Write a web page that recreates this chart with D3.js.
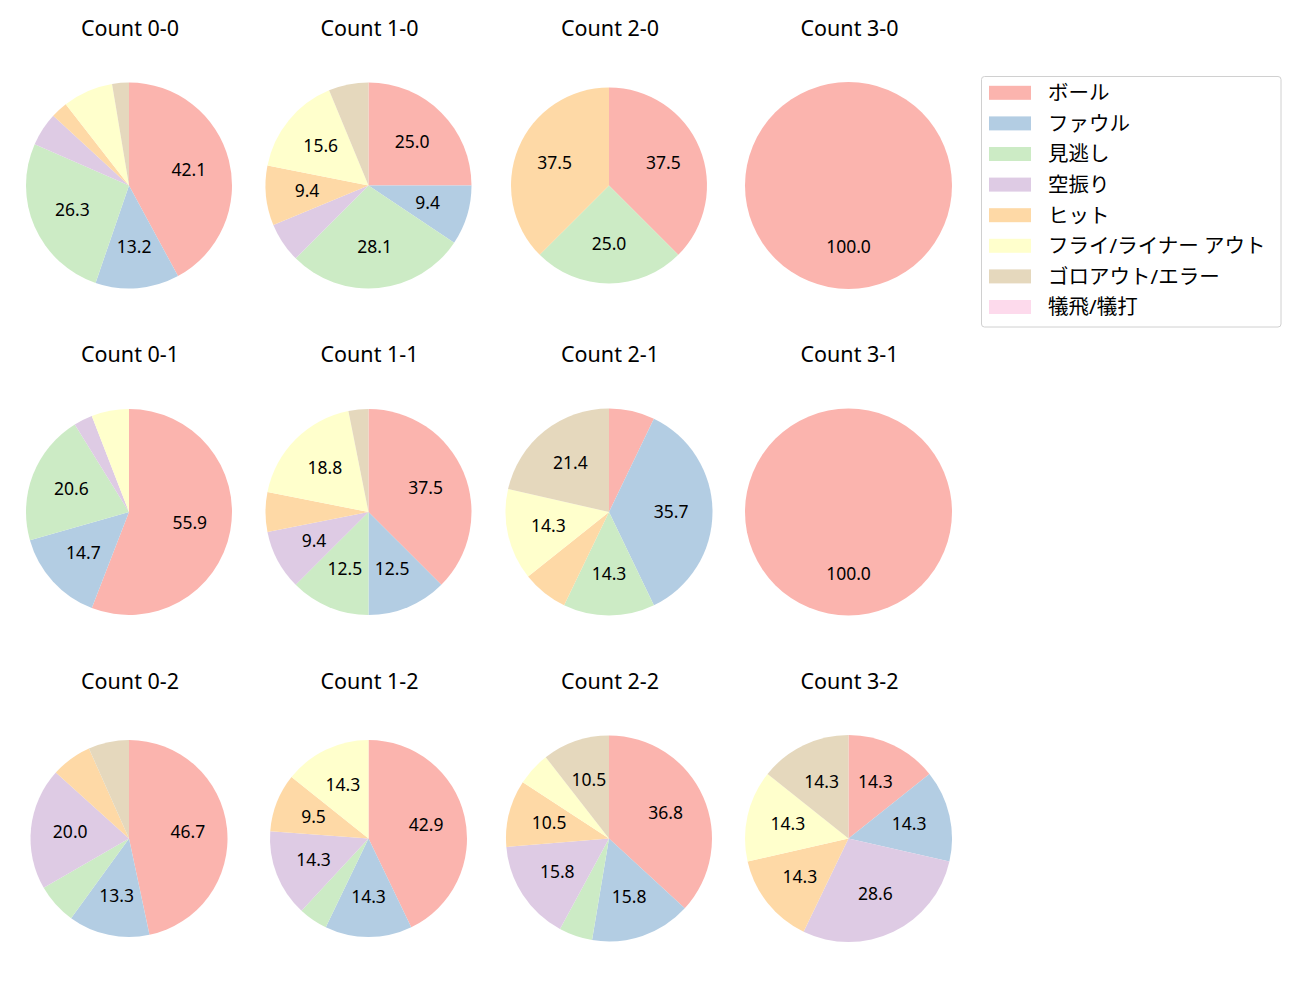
<!DOCTYPE html>
<html>
<head>
<meta charset="utf-8">
<script src="https://cdn.jsdelivr.net/npm/d3@7"></script>
<style>
  html, body { margin: 0; padding: 0; background: #fff; }
  svg { display: block; font-family: "Noto Sans", "Noto Sans CJK JP", sans-serif; }
</style>
</head>
<body>
<svg id="chart" width="1300" height="1000"></svg>
<script>
// ---- data ----
const categories = ["ボール", "ファウル", "見逃し", "空振り", "ヒット", "フライ/ライナー アウト", "ゴロアウト/エラー", "犠飛/犠打"];
const colors = ["#fbb4ae", "#b3cde3", "#ccebc5", "#decbe4", "#fed9a6", "#ffffcc", "#e5d8bd", "#fddaec"];
const countTitles = ["Count 0-0", "Count 1-0", "Count 2-0", "Count 3-0",
                     "Count 0-1", "Count 1-1", "Count 2-1", "Count 3-1",
                     "Count 0-2", "Count 1-2", "Count 2-2", "Count 3-2"];
const count00 = [16, 5, 10, 2, 1, 3, 1, 0];
const count10 = [8, 3, 9, 2, 3, 5, 2, 0];
const count20 = [3, 0, 2, 0, 3, 0, 0, 0];
const count30 = [1, 0, 0, 0, 0, 0, 0, 0];
const count01 = [19, 5, 7, 1, 0, 2, 0, 0];
const count11 = [12, 4, 4, 3, 2, 6, 1, 0];
const count21 = [1, 5, 2, 0, 1, 2, 3, 0];
const count31 = [1, 0, 0, 0, 0, 0, 0, 0];
const count02 = [7, 2, 1, 3, 1, 0, 1, 0];
const count12 = [9, 3, 1, 3, 2, 3, 0, 0];
const count22 = [7, 3, 1, 3, 2, 1, 2, 0];
const count32 = [1, 1, 0, 2, 1, 1, 1, 0];
const pieValues = [count00, count10, count20, count30,
                   count01, count11, count21, count31,
                   count02, count12, count22, count32];

// ---- layout ----
const colCenters = [129, 368.5, 609, 848.5];
const rowCenters = [185.5, 512, 838.5];
const radii = [103, 103, 98, 103.5,
               103, 103, 103.5, 103.5,
               98.5, 98.5, 103, 103.5];
const labelThreshold = 8;

const svg = d3.select("#chart");
const pie = d3.pie().sort(null).value(d => d).startAngle(0).endAngle(2 * Math.PI);

pieValues.forEach((vals, i) => {
  const col = i % 4, row = Math.floor(i / 4);
  const cx = colCenters[col], cy = rowCenters[row];
  const r = radii[i];
  const total = d3.sum(vals);
  const g = svg.append("g").attr("transform", `translate(${cx},${cy})`);
  const arc = d3.arc().innerRadius(0).outerRadius(r);
  const labelArc = d3.arc().innerRadius(r * 0.6).outerRadius(r * 0.6);
  const arcs = pie(vals).map((a, k) => ({...a, k}));
  g.selectAll("path.slice").data(arcs.filter(a => a.value > 0)).join("path")
    .attr("class", "slice")
    .attr("d", arc)
    .attr("fill", a => colors[a.k]);
  g.selectAll("text.pct").data(arcs.filter(a => a.value / total * 100 >= labelThreshold)).join("text")
    .attr("class", "pct")
    .attr("transform", a => {
      const c = labelArc.centroid(a);
      return `translate(${c[0]},${c[1]})`;
    })
    .attr("text-anchor", "middle")
    .attr("dy", "0.33em")
    .attr("font-size", 17.5)
    .attr("fill", "#000")
    .text(a => (a.value / total * 100).toFixed(1));
  svg.append("text")
    .attr("x", cx + 1).attr("y", cy - 157)
    .attr("text-anchor", "middle")
    .attr("dy", "0.33em")
    .attr("font-size", 21.5)
    .attr("fill", "#000")
    .text(countTitles[i]);
});

// ---- legend ----
const lg = svg.append("g");
lg.append("rect")
  .attr("x", 981.5).attr("y", 76.5).attr("width", 299.5).attr("height", 250.5)
  .attr("rx", 3).attr("fill", "#fff").attr("stroke", "#d0d0d0").attr("stroke-width", 1);
const legendY = d3.scalePoint().domain(categories).range([92.8, 307]);
categories.forEach((c, k) => {
  const y = legendY(c);
  lg.append("rect").attr("x", 989).attr("y", y - 7).attr("width", 42).attr("height", 14).attr("fill", colors[k]);
  lg.append("text").attr("x", 1048).attr("y", y)
    .attr("dy", "0.36em")
    .attr("font-size", 20.5).attr("fill", "#000").text(c);
});
</script>
</body>
</html>
